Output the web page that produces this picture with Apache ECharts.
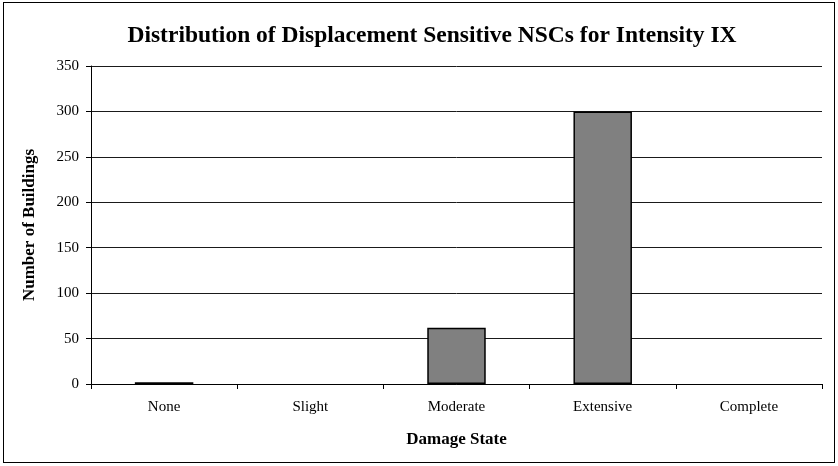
<!DOCTYPE html>
<html>
<head>
<meta charset="utf-8">
<script src="https://cdn.jsdelivr.net/npm/echarts@6/dist/echarts.min.js"></script>
<style>
  html, body { margin: 0; padding: 0; background: #fff; }
  #frame { position: absolute; left: 3px; top: 2px; width: 830px; height: 459px; border: 1px solid #000; }
  #chart { width: 838px; height: 466px; }
</style>
</head>
<body>
<div id="frame"></div>
<div id="chart"></div>
<script>
// Damage-state distribution of displacement sensitive NSCs
const categories = ['None', 'Slight', 'Moderate', 'Extensive', 'Complete'];
const buildings = [2, 0, 62, 300, 0];
const yTicks = { min: 0, max: 350, interval: 50 };

const serif = '"Liberation Serif", "Times New Roman", serif';
const chart = echarts.init(document.getElementById('chart'), null, { renderer: 'canvas' });

// empty classes get no outline, so nothing shows for them
const barData = buildings.map(v => ({
  value: v,
  itemStyle: { borderWidth: v > 0 ? 1.5 : 0 }
}));

chart.setOption({
  backgroundColor: 'transparent',
  animation: false,
  title: {
    text: 'Distribution of Displacement Sensitive NSCs for Intensity IX',
    left: 427,
    textAlign: 'center',
    top: 19,
    textStyle: { fontFamily: serif, fontWeight: 'bold', fontSize: 23.5, color: '#000' }
  },
  grid: { left: 91, right: 16, top: 66, bottom: 82 },
  xAxis: {
    type: 'category',
    data: categories,
    boundaryGap: true,
    name: 'Damage State',
    nameLocation: 'middle',
    nameGap: 47,
    nameTextStyle: { fontFamily: serif, fontWeight: 'bold', fontSize: 17, color: '#000' },
    axisLine: { lineStyle: { color: '#000', width: 1 } },
    axisTick: { show: true, alignWithLabel: false, length: 5, lineStyle: { color: '#000' } },
    axisLabel: { fontFamily: serif, fontSize: 15, color: '#000', margin: 16 }
  },
  yAxis: {
    type: 'value',
    min: yTicks.min,
    max: yTicks.max,
    interval: yTicks.interval,
    name: 'Number of Buildings',
    nameLocation: 'middle',
    nameGap: 53,
    nameTextStyle: { fontFamily: serif, fontWeight: 'bold', fontSize: 17, color: '#000' },
    axisLine: { show: true, lineStyle: { color: '#000', width: 1 } },
    axisTick: { show: true, length: 5, lineStyle: { color: '#000' } },
    axisLabel: { fontFamily: serif, fontSize: 15, color: '#000', margin: 12 },
    splitLine: { show: true, lineStyle: { color: '#1a1a1a', width: 1 } }
  },
  series: [{
    type: 'bar',
    data: barData,
    barWidth: '40%',
    itemStyle: { color: '#808080', borderColor: '#000', borderWidth: 1.5 }
  }]
});
</script>
</body>
</html>
